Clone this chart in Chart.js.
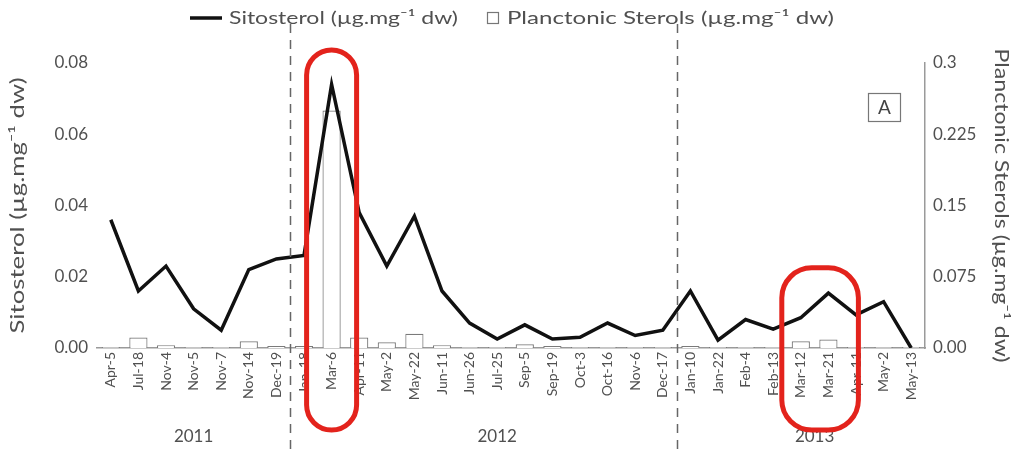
<!DOCTYPE html>
<html>
<head>
<meta charset="utf-8">
<script src="https://cdn.jsdelivr.net/npm/chart.js@4/dist/chart.umd.min.js"></script>
<style>
  html, body { margin: 0; padding: 0; background: #ffffff; }
  #wrap { width: 1018px; height: 454px; position: relative; }
  canvas { display: block; }
</style>
</head>
<body>
<div id="wrap"><canvas id="chart" width="1018" height="454"></canvas></div>
<script>
// Sampling dates (2011 – 2013)
const samplingDates = [
  'Apr-5', 'Jul-18', 'Nov-4', 'Nov-5', 'Nov-7', 'Nov-14', 'Dec-19',
  'Jan-18', 'Mar-6', 'Apr-11', 'May-2', 'May-22', 'Jun-11', 'Jun-26', 'Jul-25',
  'Sep-5', 'Sep-19', 'Oct-3', 'Oct-16', 'Nov-6', 'Dec-17',
  'Jan-10', 'Jan-22', 'Feb-4', 'Feb-13', 'Mar-12', 'Mar-21', 'Apr-11', 'May-2', 'May-13'
];

// Sitosterol (µg.mg-1 dw), left axis
const sitosterol = [
  0.036, 0.016, 0.023, 0.011, 0.005, 0.022, 0.025,
  0.026, 0.074, 0.038, 0.023, 0.037, 0.016, 0.007, 0.0025,
  0.0065, 0.0025, 0.003, 0.007, 0.0035, 0.005,
  0.016, 0.0022, 0.008, 0.0053, 0.0085, 0.0154, 0.0093, 0.013, 0.0
];

// Planctonic sterols (µg.mg-1 dw), right axis
const planctonicSterols = [
  0.001, 0.011, 0.003, 0.001, 0.001, 0.007, 0.002,
  0.002, 0.25, 0.011, 0.006, 0.015, 0.003, 0.001, 0.001,
  0.004, 0.002, 0.001, 0.001, 0.001, 0.001,
  0.002, 0.001, 0.001, 0.001, 0.007, 0.009, 0.001, 0.001, 0.001
];

const sitosterolTicks = [0, 0.02, 0.04, 0.06, 0.08];
const planctonicTicks = [0, 0.075, 0.15, 0.225, 0.3];

// Year groups: label and index of first sampling date
const years = ['2011', '2012', '2013'];
const yearFirstIndex = [0, 7, 21];

// Highlighted sampling dates (first and last index of each group)
const highlightGroups = [[8, 8], [25, 26]];

const FONT = 'Lato, "DejaVu Sans", sans-serif';
const TEXT = '#505050';

// Draws left-aligned text widened along its baseline to span a given width
function wideText(ctx, text, x, y, width) {
  const natural = ctx.measureText(text).width;
  ctx.save();
  ctx.translate(x, y);
  ctx.scale(width / natural, 1);
  ctx.textAlign = 'left';
  ctx.fillText(text, 0, 0);
  ctx.restore();
}

// Legend, axis titles, year separators, year labels, highlights and panel letter
const decorations = {
  id: 'decorations',
  afterDraw(chart) {
    const { ctx, chartArea } = chart;
    const x = chart.scales.x;
    const yL = chart.scales.y;
    const step = x.getPixelForValue(1) - x.getPixelForValue(0);
    const ds = chart.data.datasets;
    ctx.save();

    // dashed separators between years
    ctx.strokeStyle = '#666666';
    ctx.lineWidth = 1.5;
    ctx.setLineDash([9, 7]);
    for (let i = 1; i < yearFirstIndex.length; i++) {
      const px = Math.round(x.getPixelForValue(yearFirstIndex[i]) - step / 2) + 0.5;
      ctx.beginPath();
      ctx.moveTo(px, 24);
      ctx.lineTo(px, chart.height);
      ctx.stroke();
    }
    ctx.setLineDash([]);

    // year labels
    const yearAt = [3, 14, 25.5];
    ctx.fillStyle = TEXT;
    ctx.font = '17px ' + FONT;
    ctx.textAlign = 'center';
    ctx.textBaseline = 'middle';
    years.forEach((yr, i) => {
      const p = x.getPixelForValue(0) + yearAt[i] * step;
      ctx.fillText(yr, p, 437);
    });

    // axis titles
    const midY = (chartArea.top + chartArea.bottom) / 2;
    ctx.font = '19px ' + FONT;
    ctx.save();
    ctx.translate(18, midY);
    ctx.rotate(-Math.PI / 2);
    wideText(ctx, ds[0].label, -128, 0, 256);
    ctx.restore();
    ctx.save();
    ctx.translate(1001, midY);
    ctx.rotate(Math.PI / 2);
    wideText(ctx, ds[1].label, -157, 0, 314);
    ctx.restore();

    // highlight outlines
    ctx.strokeStyle = '#e3231c';
    ctx.lineWidth = 5;
    const boxes = [
      { l: -25, r: 25, top: chartArea.top - 13, bottom: 430 },
      { l: -19, r: 30, top: yL.getPixelForValue(0.0225), bottom: 430 }
    ];
    highlightGroups.forEach((g, i) => {
      const b = boxes[i];
      const left = x.getPixelForValue(g[0]) + b.l;
      const right = x.getPixelForValue(g[1]) + b.r;
      const w = right - left;
      const rad = Math.min(w / 2, 30);
      ctx.beginPath();
      ctx.roundRect(left, b.top, w, b.bottom - b.top, rad);
      ctx.stroke();
    });

    // panel letter
    ctx.strokeStyle = '#777777';
    ctx.lineWidth = 1.2;
    ctx.strokeRect(868.5, 93.5, 32, 28);
    ctx.fillStyle = '#444444';
    ctx.font = '19px ' + FONT;
    ctx.textAlign = 'center';
    ctx.fillText('A', 884.5, 108);

    // legend
    ctx.font = '18px ' + FONT;
    ctx.fillStyle = TEXT;
    const ly = 18;
    ctx.strokeStyle = '#111111';
    ctx.lineWidth = 3.5;
    ctx.beginPath();
    ctx.moveTo(190, ly);
    ctx.lineTo(222, ly);
    ctx.stroke();
    wideText(ctx, ds[0].label, 229, ly, 229);
    ctx.strokeStyle = '#777777';
    ctx.lineWidth = 1.2;
    ctx.strokeRect(487.5, 12.5, 11, 11);
    wideText(ctx, ds[1].label, 507, ly, 327);

    ctx.restore();
  }
};

new Chart(document.getElementById('chart'), {
  type: 'bar',
  data: {
    labels: samplingDates,
    datasets: [
      {
        type: 'line',
        label: 'Sitosterol (µg.mg⁻¹ dw)',
        data: sitosterol,
        yAxisID: 'y',
        borderColor: '#111111',
        borderWidth: 3.5,
        pointRadius: 0,
        tension: 0,
        order: 0
      },
      {
        type: 'bar',
        label: 'Planctonic Sterols (µg.mg⁻¹ dw)',
        data: planctonicSterols,
        yAxisID: 'y1',
        backgroundColor: '#ffffff',
        borderColor: '#7a7a7a',
        borderWidth: 1.2,
        barPercentage: 0.66,
        categoryPercentage: 1,
        order: 1
      }
    ]
  },
  options: {
    responsive: false,
    animation: false,
    devicePixelRatio: 1,
    layout: { padding: { top: 63, left: 0, right: 0, bottom: 0 } },
    plugins: { legend: { display: false }, tooltip: { enabled: false } },
    scales: {
      x: {
        grid: { display: false, drawTicks: false },
        border: { display: true, color: '#9a9a9a', width: 1.5 },
        ticks: {
          autoSkip: false,
          minRotation: 90,
          maxRotation: 90,
          padding: 4,
          color: TEXT,
          font: { family: FONT, size: 14 }
        },
        afterFit(s) { s.height = 106; }
      },
      y: {
        position: 'left',
        min: 0,
        max: 0.08,
        afterBuildTicks(s) { s.ticks = sitosterolTicks.map(v => ({ value: v })); },
        grid: { display: false, drawTicks: false },
        border: { display: false },
        ticks: {
          padding: 9,
          color: TEXT,
          font: { family: FONT, size: 17 },
          callback: v => Number(v).toFixed(2)
        },
        afterFit(s) { s.width = 97; }
      },
      y1: {
        position: 'right',
        min: 0,
        max: 0.3,
        afterBuildTicks(s) { s.ticks = planctonicTicks.map(v => ({ value: v })); },
        grid: { display: false, drawTicks: false },
        border: { display: true, color: '#9a9a9a', width: 1.5 },
        ticks: {
          padding: 8,
          color: TEXT,
          font: { family: FONT, size: 17 },
          callback: v => (v === 0 ? '0.00' : String(v))
        },
        afterFit(s) { s.width = 93; }
      }
    }
  },
  plugins: [decorations]
});
</script>
</body>
</html>
